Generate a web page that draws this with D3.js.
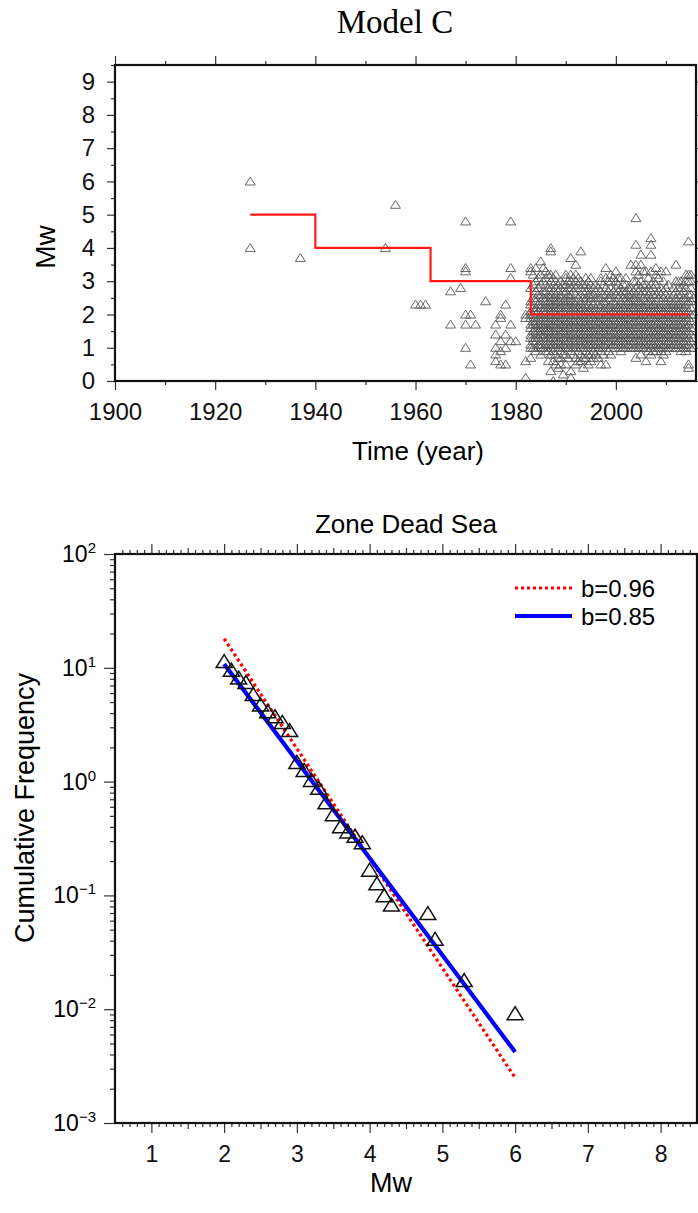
<!DOCTYPE html>
<html>
<head>
<meta charset="utf-8">
<script src="https://cdn.jsdelivr.net/npm/d3@7"></script>
<style>
  body { margin: 0; background: #fff; }
  svg { display: block; font-family: "Liberation Sans", Arial, sans-serif; }
  .tick line { stroke: #333; stroke-width: 1.2; }
  .tick text { fill: #111; }
</style>
</head>
<body>
<svg id="chart" width="698" height="1213"></svg>
<script>
// ---- Model C: magnitude vs time (each entry: year column, Mw values) ----
const quakeColumns = [
  [1927, '6.0 4.0'], [1937, '3.7'], [1954, '4.0'], [1956, '5.3'],
  [1960, '2.3'], [1961, '2.3'], [1962, '2.3'],
  [1967, '2.7 1.7'], [1969, '2.8'], [1970, '4.8 3.4 3.3 2.0 1.7 1.0'],
  [1971, '2.0 0.5'], [1972, '1.7'], [1974, '2.4'],
  [1976, '1.7 1.4 1.0 0.8 0.6'], [1977, '2.0 1.9 1.2 0.9 0.5'],
  [1978, '2.3 1.4 1.0 0.5'], [1979, '4.8 3.4 3.1 1.7 1.2'], [1980, '1.2'],
  [1982, '2.0 1.9 0.6 0.1'],
  [1983, '3.4 3.3 2.8 2.4 2.3 2.1 2.0 1.9 1.7 1.6 1.4 1.3 1.1 1.0 0.7'],
  [1983.5, '3.2 2.9 2.5 2.2 2.0 1.8 1.7 1.5 1.3 1.2 1.0'],
  [1984, '3.4 3.0 2.7 2.5 2.4 2.2 2.1 2.0 1.9 1.8 1.7 1.6 1.5 1.4 1.3 1.2 1.0 0.9'],
  [1984.5, '3.1 2.8 2.6 2.3 2.1 1.9 1.7 1.5 1.3 1.1'],
  [1985, '3.6 3.2 2.9 2.6 2.4 2.3 2.2 2.0 1.9 1.8 1.7 1.6 1.5 1.4 1.2 1.1 1.0 0.8'],
  [1985.5, '3.4 3.0 2.7 2.5 2.2 2.1 1.9 1.7 1.6 1.4 1.3 1.0'],
  [1986, '3.3 3.1 2.9 2.7 2.5 2.4 2.3 2.2 2.1 2.0 1.9 1.8 1.7 1.6 1.5 1.4 1.3 1.2 1.1 1.0 0.9'],
  [1986.5, '3.2 2.8 2.6 2.4 2.2 2.0 1.8 1.6 1.5 1.3 1.1 0.9 0.6'],
  [1987, '4.0 3.9 3.2 3.0 2.8 2.6 2.5 2.4 2.3 2.2 2.1 2.0 1.9 1.8 1.7 1.6 1.5 1.4 1.3 1.2 1.1 1.0 0.8 0.3'],
  [1987.5, '3.1 2.9 2.7 2.5 2.3 2.1 1.9 1.7 1.5 1.3 1.1 0.9 0.6 0.0'],
  [1988, '3.2 3.0 2.8 2.6 2.5 2.4 2.3 2.2 2.1 2.0 1.9 1.8 1.7 1.6 1.5 1.4 1.3 1.2 1.1 1.0 0.8 0.5'],
  [1988.5, '2.9 2.7 2.4 2.2 2.0 1.8 1.6 1.4 1.2 1.0 0.7 0.4'],
  [1989, '3.0 2.8 2.6 2.5 2.4 2.3 2.2 2.1 2.0 1.9 1.8 1.7 1.6 1.5 1.4 1.3 1.2 1.1 1.0 0.9 0.7 0.5'],
  [1989.5, '2.9 2.7 2.4 2.1 1.9 1.7 1.5 1.3 1.1 0.8 0.2'],
  [1990, '3.2 3.1 2.9 2.7 2.5 2.4 2.3 2.2 2.1 2.0 1.9 1.8 1.7 1.6 1.5 1.4 1.3 1.2 1.1 1.0 0.8 0.5'],
  [1990.5, '3.0 2.8 2.6 2.4 2.2 2.0 1.8 1.6 1.4 1.2 1.0 0.7'],
  [1991, '3.7 3.2 3.0 2.8 2.6 2.5 2.4 2.3 2.2 2.1 2.0 1.9 1.8 1.7 1.6 1.5 1.4 1.3 1.2 1.1 1.0 0.9 0.3 0.1'],
  [1991.5, '3.1 2.9 2.7 2.4 2.2 2.0 1.8 1.6 1.4 1.2 1.0 0.8'],
  [1992, '3.5 3.2 3.0 2.8 2.6 2.4 2.3 2.2 2.1 2.0 1.9 1.8 1.7 1.6 1.5 1.4 1.3 1.2 1.1 1.0 0.7 0.5'],
  [1992.5, '3.1 2.9 2.5 2.2 2.0 1.8 1.6 1.4 1.2 0.9 0.6'],
  [1993, '3.9 3.0 2.8 2.6 2.4 2.3 2.2 2.1 2.0 1.9 1.8 1.7 1.6 1.5 1.4 1.3 1.2 1.1 1.0 0.8 0.6'],
  [1993.5, '2.9 2.7 2.5 2.2 2.0 1.8 1.6 1.4 1.2 1.0 0.7 0.4'],
  [1994, '3.1 2.9 2.7 2.5 2.4 2.3 2.2 2.1 2.0 1.9 1.8 1.7 1.6 1.5 1.4 1.3 1.2 1.1 1.0 0.9 0.7'],
  [1994.5, '3.0 2.8 2.6 2.3 2.1 1.9 1.7 1.5 1.3 1.1 0.8 0.5'],
  [1995, '3.1 2.9 2.6 2.5 2.4 2.2 2.1 2.0 1.9 1.8 1.7 1.6 1.5 1.4 1.3 1.2 1.1 1.0 0.8 0.6'],
  [1995.5, '2.8 2.6 2.3 2.1 1.9 1.7 1.5 1.3 1.1 0.9 0.7'],
  [1996, '2.9 2.7 2.5 2.4 2.2 2.1 2.0 1.9 1.8 1.7 1.6 1.5 1.4 1.3 1.2 1.1 1.0 0.8'],
  [1996.5, '2.8 2.5 2.3 2.0 1.8 1.6 1.4 1.2 1.0 0.7'],
  [1997, '3.1 3.0 2.7 2.5 2.3 2.2 2.1 2.0 1.9 1.8 1.7 1.6 1.5 1.4 1.3 1.2 1.1 1.0 0.9 0.5'],
  [1997.5, '2.9 2.6 2.4 2.1 1.9 1.7 1.5 1.3 1.1 0.8'],
  [1998, '3.4 3.1 2.8 2.6 2.4 2.3 2.2 2.1 2.0 1.9 1.8 1.7 1.6 1.5 1.4 1.3 1.2 1.1 1.0 0.5'],
  [1998.5, '3.0 2.7 2.5 2.2 2.0 1.8 1.6 1.4 1.2 0.9'],
  [1999, '3.2 3.0 2.8 2.6 2.5 2.3 2.2 2.1 2.0 1.9 1.8 1.7 1.6 1.5 1.4 1.3 1.2 1.1 1.0 0.8'],
  [1999.5, '3.1 2.7 2.4 2.1 1.9 1.7 1.5 1.3 1.1'],
  [2000, '3.3 3.0 2.8 2.6 2.4 2.3 2.2 2.1 2.0 1.9 1.8 1.7 1.6 1.5 1.4 1.3 1.2 1.1 1.0'],
  [2000.5, '3.1 2.9 2.7 2.5 2.2 2.0 1.8 1.6 1.4 1.2'],
  [2001, '3.1 2.8 2.6 2.4 2.3 2.2 2.1 2.0 1.9 1.8 1.7 1.6 1.5 1.4 1.3 1.2 1.1 1.0 0.9'],
  [2001.5, '2.9 2.7 2.5 2.2 2.0 1.8 1.6 1.4 1.2 1.0'],
  [2002, '3.1 2.9 2.7 2.5 2.4 2.3 2.2 2.1 2.0 1.9 1.8 1.7 1.6 1.5 1.4 1.3 1.2 1.1 1.0'],
  [2002.5, '2.8 2.6 2.4 2.1 1.9 1.7 1.5 1.3 1.1'],
  [2003, '3.5 2.8 2.6 2.5 2.4 2.3 2.2 2.1 2.0 1.9 1.8 1.7 1.6 1.5 1.4 1.3 1.2 1.1 1.0'],
  [2003.5, '3.0 2.7 2.5 2.2 2.0 1.8 1.6 1.4 1.2 1.0'],
  [2004, '4.9 4.1 3.5 3.3 3.0 2.8 2.6 2.5 2.4 2.3 2.2 2.1 2.0 1.9 1.8 1.7 1.6 1.5 1.4 1.3 1.2 1.1 1.0 0.7'],
  [2004.5, '3.2 2.9 2.7 2.4 2.2 2.0 1.8 1.6 1.4 1.2 1.0'],
  [2005, '3.8 3.5 3.0 2.8 2.6 2.4 2.3 2.2 2.1 2.0 1.9 1.8 1.7 1.6 1.5 1.4 1.3 1.2 1.1 1.0 0.8'],
  [2005.5, '3.3 2.9 2.7 2.5 2.2 2.0 1.8 1.6 1.4 1.2 1.0'],
  [2006, '3.3 2.9 2.7 2.5 2.4 2.3 2.2 2.1 2.0 1.9 1.8 1.7 1.6 1.5 1.4 1.3 1.2 1.1 1.0 0.6'],
  [2006.5, '3.1 2.8 2.6 2.4 2.1 1.9 1.7 1.5 1.3 1.1 0.9'],
  [2007, '4.3 4.1 3.8 3.3 2.9 2.7 2.5 2.4 2.3 2.2 2.1 2.0 1.9 1.8 1.7 1.6 1.5 1.4 1.3 1.2 1.1 1.0 0.8'],
  [2007.5, '3.0 2.8 2.6 2.3 2.1 1.9 1.7 1.5 1.3 1.1 0.9'],
  [2008, '3.4 3.2 2.9 2.6 2.4 2.3 2.2 2.1 2.0 1.9 1.8 1.7 1.6 1.5 1.4 1.3 1.2 1.1 1.0 0.9'],
  [2008.5, '3.1 2.7 2.5 2.2 2.0 1.8 1.6 1.4 1.2 1.0'],
  [2009, '3.3 2.8 2.6 2.4 2.3 2.2 2.1 2.0 1.9 1.8 1.7 1.6 1.5 1.4 1.3 1.2 1.1 1.0 0.9 0.6'],
  [2009.5, '3.0 2.7 2.5 2.1 1.9 1.7 1.5 1.3 1.1 0.8'],
  [2010, '3.3 2.8 2.6 2.4 2.3 2.2 2.1 2.0 1.9 1.8 1.7 1.6 1.5 1.4 1.3 1.2 1.1 1.0 0.9'],
  [2010.5, '2.9 2.5 2.2 2.0 1.8 1.6 1.4 1.2 1.0'],
  [2011, '2.5 2.4 2.3 2.2 2.1 2.0 1.9 1.8 1.7 1.6 1.5 1.4 1.3 1.2 1.1 1.0'],
  [2011.5, '2.8 2.6 2.3 2.1 1.9 1.7 1.5 1.3 1.1'],
  [2012, '3.5 3.0 2.7 2.5 2.4 2.3 2.2 2.1 2.0 1.9 1.8 1.7 1.6 1.5 1.4 1.3 1.2 1.1 1.0'],
  [2012.5, '3.0 2.8 2.6 2.3 2.1 1.9 1.7 1.5 1.3 1.1'],
  [2013, '3.0 2.8 2.6 2.4 2.3 2.2 2.1 2.0 1.9 1.8 1.7 1.6 1.5 1.4 1.3 1.2 1.1 1.0 0.9'],
  [2013.5, '2.9 2.7 2.5 2.2 2.0 1.8 1.6 1.4 1.2 1.0'],
  [2014, '3.2 3.0 2.8 2.5 2.4 2.3 2.2 2.1 2.0 1.9 1.8 1.7 1.6 1.5 1.4 1.3 1.2 1.1 1.0 0.9'],
  [2014.5, '4.2 3.2 3.0 2.6 2.4 2.1 1.9 1.7 1.5 1.3 1.1 0.5 0.4'],
  [2015, '3.2 3.0 2.8 2.6 2.4 2.2 2.0 1.8 1.6 1.4 1.2 1.0'],
  [2015.5, '2.5 2.0 1.6 1.3 1.0']
]

// completeness magnitude steps (red line)
const mcYears = [1927, 1940, 1963, 1983, 2014.7]
const mcValues = [5, 4, 3, 2, 2]

const timeTicks = [1900, 1920, 1940, 1960, 1980, 2000]
const mwTicks = [0, 1, 2, 3, 4, 5, 6, 7, 8, 9]

// ---- Zone Dead Sea: cumulative frequency-magnitude ----
const fmdMw = [2.0, 2.1, 2.2, 2.3, 2.4, 2.5, 2.6, 2.7, 2.8, 2.9,
  3.0, 3.1, 3.2, 3.3, 3.4, 3.5, 3.6, 3.7, 3.8, 3.9,
  4.0, 4.1, 4.2, 4.3, 4.8, 4.9, 5.3, 6.0]
const fmdCum = [11.3, 9.5, 8.1, 7.4, 5.8, 4.7, 4.1, 3.7, 3.3, 2.8,
  1.47, 1.25, 1.02, 0.87, 0.65, 0.51, 0.40, 0.36, 0.33, 0.29,
  0.166, 0.126, 0.099, 0.082, 0.069, 0.041, 0.0178, 0.0091]

const fitLabels = ['b=0.96', 'b=0.85']
const fitMw = [[2, 6], [2, 6]]
const fitCum = [[18, 0.0025], [10.8, 0.0042]]
const fitColors = ['#ff0000', '#0000ff']

const fmdXTicks = [1, 2, 3, 4, 5, 6, 7, 8]
const fmdYExp = [-3, -2, -1, 0, 1, 2]

const svg = d3.select('#chart')

function tri(w, h) {
  return `M0,${-h * 0.55}L${w / 2},${h * 0.45}L${-w / 2},${h * 0.45}Z`
}

class TimeChart {
  constructor() {
    this.left = 115
    this.right = 696
    this.top = 65
    this.bottom = 381
    this.initVis()
  }

  initVis() {
    let vis = this
    vis.x = d3.scaleLinear().domain([1900, 2016]).range([vis.left, vis.right])
    vis.y = d3.scaleLinear().domain([0, 9.5]).range([vis.bottom, vis.top])

    vis.points = quakeColumns.flatMap(([yr, s]) => s.split(' ').map(m => ({ year: yr, mw: +m })))

    svg.append('clipPath').attr('id', 'clipTop')
      .append('rect')
        .attr('x', vis.left).attr('y', vis.top)
        .attr('width', vis.right - vis.left).attr('height', vis.bottom - vis.top)

    vis.renderVis()
  }

  renderVis() {
    let vis = this
    const fs = 24

    // ticks
    const minorYears = [1910, 1930, 1950, 1970, 1990, 2010]
    svg.append('g').attr('transform', `translate(0,${vis.bottom})`)
      .call(d3.axisBottom(vis.x).tickValues(timeTicks).tickSize(9).tickPadding(13).tickFormat(d3.format('d')))
      .call(g => g.select('.domain').remove())
      .call(g => g.selectAll('text').attr('font-size', fs).attr('font-family', null))
    svg.append('g').attr('transform', `translate(0,${vis.bottom})`)
      .call(d3.axisBottom(vis.x).tickValues(minorYears).tickSize(4).tickFormat(''))
      .call(g => g.select('.domain').remove())
    svg.append('g').attr('transform', `translate(0,${vis.top})`)
      .call(d3.axisTop(vis.x).tickValues(timeTicks).tickSize(9).tickFormat(''))
      .call(g => g.select('.domain').remove())
    svg.append('g').attr('transform', `translate(0,${vis.top})`)
      .call(d3.axisTop(vis.x).tickValues(minorYears).tickSize(4).tickFormat(''))
      .call(g => g.select('.domain').remove())

    const halfTicks = mwTicks.map(d => d + 0.5)
    svg.append('g').attr('transform', `translate(${vis.left},0)`)
      .call(d3.axisLeft(vis.y).tickValues(mwTicks).tickSize(8).tickPadding(12))
      .call(g => g.select('.domain').remove())
      .call(g => g.selectAll('text').attr('font-size', fs).attr('font-family', null))
    svg.append('g').attr('transform', `translate(${vis.left},0)`)
      .call(d3.axisLeft(vis.y).tickValues(halfTicks).tickSize(4).tickFormat(''))
      .call(g => g.select('.domain').remove())
    svg.append('g').attr('transform', `translate(${vis.right},0)`)
      .call(d3.axisRight(vis.y).tickValues(mwTicks).tickSize(8).tickFormat(''))
      .call(g => g.select('.domain').remove())

    // events
    svg.append('g').attr('clip-path', 'url(#clipTop)')
      .selectAll('path')
      .data(vis.points)
      .join('path')
        .attr('d', tri(10, 8))
        .attr('transform', d => `translate(${vis.x(d.year)},${vis.y(d.mw)})`)
        .attr('fill', 'none')
        .attr('stroke', '#5a5a5a')
        .attr('stroke-width', 0.9)

    // Mc steps
    const steps = mcYears.map((yr, i) => [yr, mcValues[i]])
    svg.append('path')
      .datum(steps)
      .attr('fill', 'none')
      .attr('stroke', '#ff1a1a')
      .attr('stroke-width', 2.2)
      .attr('d', d3.line().x(d => vis.x(d[0])).y(d => vis.y(d[1])).curve(d3.curveStepAfter))

    // frame
    svg.append('rect')
      .attr('x', vis.left).attr('y', vis.top)
      .attr('width', vis.right - vis.left).attr('height', vis.bottom - vis.top)
      .attr('fill', 'none').attr('stroke', '#111').attr('stroke-width', 2.2)

    // titles
    svg.append('text')
      .attr('x', 395).attr('y', 33)
      .attr('text-anchor', 'middle')
      .attr('font-family', '"Liberation Serif", "Times New Roman", serif')
      .attr('font-size', 33)
      .text('Model C')
    svg.append('text')
      .attr('x', 418).attr('y', 460)
      .attr('text-anchor', 'middle')
      .attr('font-size', 26)
      .text('Time (year)')
    svg.append('text')
      .attr('transform', 'translate(55,247) rotate(-90)')
      .attr('text-anchor', 'middle')
      .attr('font-size', 28)
      .text('Mw')
  }
}

class FmdChart {
  constructor() {
    this.left = 115
    this.right = 697
    this.top = 554
    this.bottom = 1123
    this.initVis()
  }

  initVis() {
    let vis = this
    vis.x = d3.scaleLinear().domain([0.5, 8.5]).range([vis.left, vis.right])
    vis.y = d3.scaleLog().domain([1e-3, 1e2]).range([vis.bottom, vis.top])
    vis.points = fmdMw.map((m, i) => ({ mw: m, n: fmdCum[i] }))
    vis.renderVis()
  }

  renderVis() {
    let vis = this

    const minorX = d3.range(6, 85).filter(i => i % 10 !== 0).map(i => i / 10)
    const decades = fmdYExp.map(e => Math.pow(10, e))
    const minorY = fmdYExp.slice(0, -1).flatMap(e => d3.range(2, 10).map(k => k * Math.pow(10, e)))

    const strip = g => g.select('.domain').remove()
    svg.append('g').attr('transform', `translate(0,${vis.bottom})`)
      .call(d3.axisBottom(vis.x).tickValues(fmdXTicks).tickSize(10).tickPadding(13).tickFormat(d3.format('d')))
      .call(strip)
      .call(g => g.selectAll('text').attr('font-size', 23).attr('font-family', null))
    svg.append('g').attr('transform', `translate(0,${vis.bottom})`)
      .call(d3.axisBottom(vis.x).tickValues(minorX.filter(d => d % 1 !== 0.5)).tickSize(4).tickFormat(''))
      .call(strip)
    svg.append('g').attr('transform', `translate(0,${vis.bottom})`)
      .call(d3.axisBottom(vis.x).tickValues(minorX.filter(d => d % 1 === 0.5)).tickSize(6).tickFormat(''))
      .call(strip)
    svg.append('g').attr('transform', `translate(0,${vis.top})`)
      .call(d3.axisTop(vis.x).tickValues(fmdXTicks).tickSize(10).tickFormat(''))
      .call(strip)
    svg.append('g').attr('transform', `translate(0,${vis.top})`)
      .call(d3.axisTop(vis.x).tickValues(minorX.filter(d => d % 1 !== 0.5)).tickSize(4).tickFormat(''))
      .call(strip)
    svg.append('g').attr('transform', `translate(0,${vis.top})`)
      .call(d3.axisTop(vis.x).tickValues(minorX.filter(d => d % 1 === 0.5)).tickSize(6).tickFormat(''))
      .call(strip)

    svg.append('g').attr('transform', `translate(${vis.left},0)`)
      .call(d3.axisLeft(vis.y).tickValues(decades).tickSize(11).tickFormat(''))
      .call(strip)
    svg.append('g').attr('transform', `translate(${vis.left},0)`)
      .call(d3.axisLeft(vis.y).tickValues(minorY).tickSize(5).tickFormat(''))
      .call(strip)
    svg.append('g').attr('transform', `translate(${vis.right},0)`)
      .call(d3.axisRight(vis.y).tickValues(minorY).tickSize(5).tickFormat(''))
      .call(strip)

    // 10^n labels
    const yl = svg.append('g').selectAll('text')
      .data(fmdYExp)
      .join('text')
        .attr('x', 96)
        .attr('y', d => vis.y(Math.pow(10, d)) + 8)
        .attr('text-anchor', 'end')
        .attr('font-size', 23)
    yl.append('tspan').text('10')
    yl.append('tspan')
      .attr('dy', -9)
      .attr('font-size', 15)
      .text(d => d < 0 ? '\u2212' + Math.abs(d) : String(d))

    // fits
    fitLabels.forEach((lab, i) => {
      const pts = fitMw[i].map((m, j) => [m, fitCum[i][j]])
      svg.append('path')
        .datum(pts)
        .attr('fill', 'none')
        .attr('stroke', fitColors[i])
        .attr('stroke-width', i === 0 ? 3.2 : 4.2)
        .attr('stroke-dasharray', i === 0 ? '3,3' : null)
        .attr('d', d3.line().x(d => vis.x(d[0])).y(d => vis.y(d[1])))
    })

    // observed
    svg.append('g')
      .selectAll('path')
      .data(vis.points)
      .join('path')
        .attr('d', tri(16, 13))
        .attr('transform', d => `translate(${vis.x(d.mw)},${vis.y(d.n)})`)
        .attr('fill', 'none')
        .attr('stroke', '#111')
        .attr('stroke-width', 1.5)

    // legend
    const lg = svg.append('g').selectAll('g')
      .data(fitLabels)
      .join('g')
        .attr('transform', (d, i) => `translate(515,${588 + i * 28})`)
    lg.append('line')
      .attr('x1', 0).attr('x2', 57)
      .attr('stroke', (d, i) => fitColors[i])
      .attr('stroke-width', (d, i) => i === 0 ? 3.2 : 4.2)
      .attr('stroke-dasharray', (d, i) => i === 0 ? '3,3' : null)
    lg.append('text')
      .attr('x', 66).attr('y', 9)
      .attr('font-size', 24)
      .text(d => d)

    svg.append('rect')
      .attr('x', vis.left).attr('y', vis.top)
      .attr('width', vis.right - vis.left).attr('height', vis.bottom - vis.top)
      .attr('fill', 'none').attr('stroke', '#111').attr('stroke-width', 2.2)

    svg.append('text')
      .attr('x', 406).attr('y', 533)
      .attr('text-anchor', 'middle')
      .attr('font-size', 26)
      .text('Zone Dead Sea')
    svg.append('text')
      .attr('x', 391).attr('y', 1192)
      .attr('text-anchor', 'middle')
      .attr('font-size', 27)
      .text('Mw')
    svg.append('text')
      .attr('transform', 'translate(34,808) rotate(-90)')
      .attr('text-anchor', 'middle')
      .attr('font-size', 27)
      .text('Cumulative Frequency')
  }
}

new TimeChart()
new FmdChart()
</script>
</body>
</html>
